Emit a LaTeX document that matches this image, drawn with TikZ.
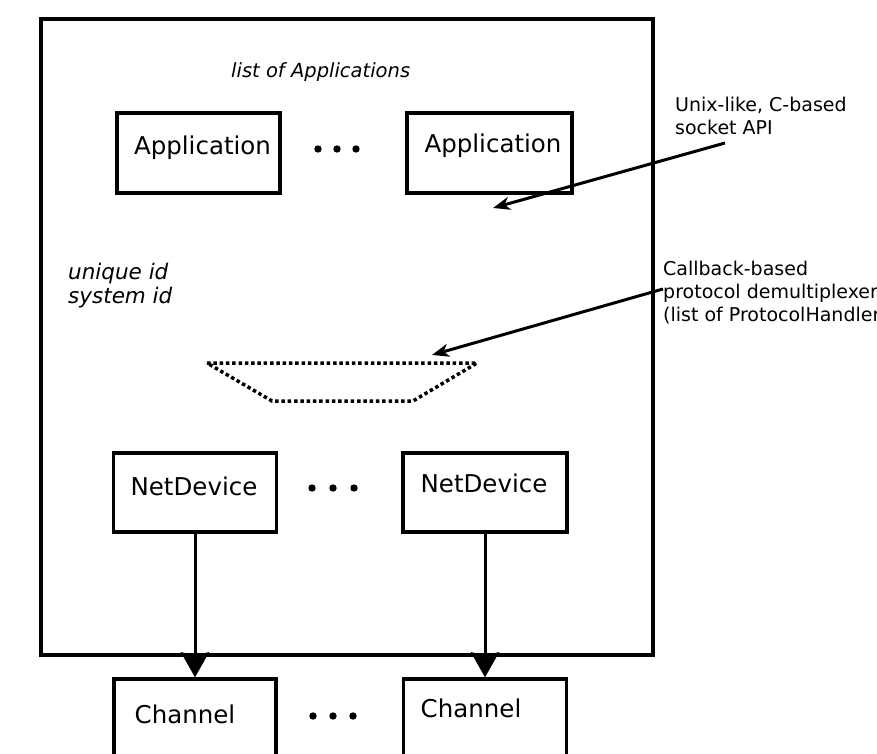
\documentclass[tikz,border=0pt]{standalone}
\usepackage{fontspec}
\setmainfont{DejaVu Sans}
\usetikzlibrary{arrows.meta}
\tikzset{
  box/.style={draw=black, line width=3.5pt, rectangle, inner sep=0pt, fill=none},
  boxlbl/.style={inner sep=0pt, anchor=base, font=\fontsize{24.5}{28}\selectfont},
  note/.style={inner sep=0pt, anchor=base west, font=\fontsize{19}{23}\selectfont},
  inote/.style={inner sep=0pt, anchor=base west, font=\fontsize{21.5}{24}\selectfont\itshape},
  bigarrow/.style={line width=3pt, -{Stealth[length=25pt, width=28pt, inset=3pt]}},
  ptr/.style={line width=3pt, -{Stealth[length=17pt, width=13pt, inset=5pt]}},
  dotline/.style={line width=3.5pt, dash pattern=on 3.5pt off 2.8pt},
  dotmark/.style={fill=black}
}
\begin{document}
\begin{tikzpicture}[x=1pt, y=-1pt]
\useasboundingbox (0,0) rectangle (877,754);
\fill[white] (0,0) rectangle (877,754);

% outer node box
\node[box, minimum width=612pt, minimum height=636pt] (node) at (347,337) {};

% title
\node[inner sep=0pt, anchor=base west, font=\fontsize{19.5}{23}\selectfont\itshape] (title) at (231,78) {list of Applications};

% applications
\node[box, minimum width=163pt, minimum height=80pt] (app1) at (198.5,153) {};
\node[boxlbl] (app1t) at (202.5,155) {Application};
\node[box, minimum width=165pt, minimum height=80pt] (app2) at (489.5,153) {};
\node[boxlbl] (app2t) at (493,153) {Application};
\foreach \x in {318,337,356} \fill[dotmark] (\x,149) circle (3.7);

% socket API note
\node[note] (sock1) at (675,112) {Unix-like, C-based};
\node[note] (sock2) at (675,135) {socket API};
\coordinate (sockfrom) at (725,143);
\coordinate (sockto) at (493,208);
\draw[ptr] (sockfrom) -- (sockto);

% ids
\node[inote] (uid) at (68,279) {unique id};
\node[inote] (sid) at (68,303) {system id};

% demux note
\node[note] (cb1) at (663,275) {Callback-based};
\node[note] (cb2) at (663,298) {protocol demultiplexer};
\node[note] (cb3) at (663,321) {(list of ProtocolHandler};

% demultiplexer trapezoid
\coordinate (tl) at (207,363);
\coordinate (tr) at (477,363);
\coordinate (br) at (413,401);
\coordinate (bl) at (272,401);
\draw[dotline] (tl) -- (tr) -- (br) -- (bl) -- cycle;
\coordinate (cbfrom) at (663,289);
\coordinate (demux) at (432,355);
\draw[ptr] (cbfrom) -- (demux);

% net devices
\node[box, minimum width=163pt, minimum height=79pt] (nd1) at (195,492.5) {};
\node[boxlbl] (nd1t) at (194,495) {NetDevice};
\node[box, minimum width=164pt, minimum height=79pt] (nd2) at (485,492.5) {};
\node[boxlbl] (nd2t) at (484,492) {NetDevice};
\foreach \x in {312,333,354} \fill[dotmark] (\x,488) circle (3.7);

% channels
\node[box, minimum width=162pt, minimum height=120pt] (ch1) at (195,739) {};
\node[boxlbl] (ch1t) at (185,723) {Channel};
\node[box, minimum width=163pt, minimum height=120pt] (ch2) at (485,739) {};
\node[boxlbl] (ch2t) at (471,717) {Channel};
\foreach \x in {313,333,353} \fill[dotmark] (\x,716) circle (3.7);

% connectors
\draw[bigarrow] (nd1.south) -- (ch1.north);
\draw[bigarrow] (nd2.south) -- (ch2.north);
\end{tikzpicture}
\end{document}
